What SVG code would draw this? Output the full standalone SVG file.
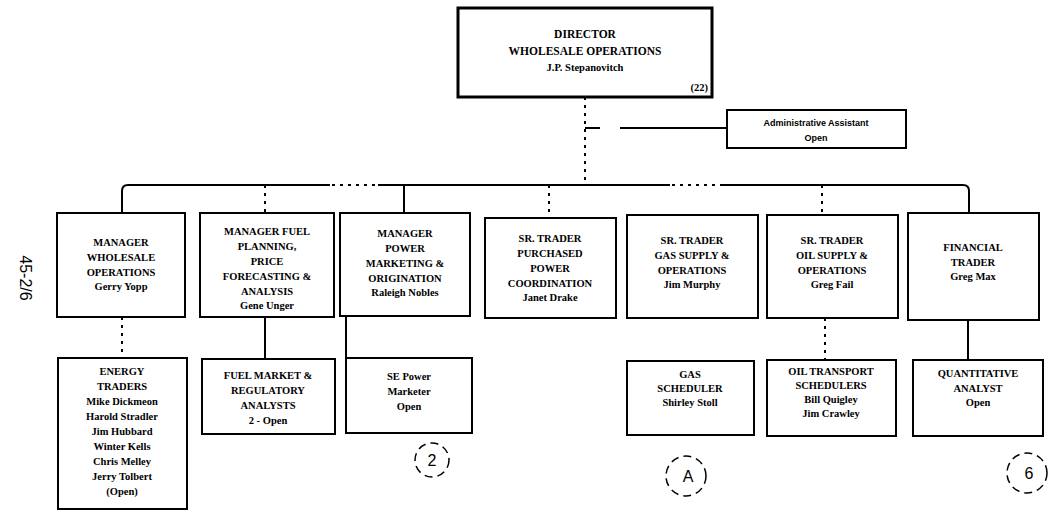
<svg xmlns="http://www.w3.org/2000/svg" width="1053" height="515" viewBox="0 0 1053 515">
<style>
.box{fill:#fff;stroke:#000;stroke-width:2}
.dir{fill:#fff;stroke:#000;stroke-width:3}
.t{font-family:"Liberation Serif",serif;font-weight:bold;font-size:10.5px;fill:#000;text-anchor:middle}
.td{font-family:"Liberation Serif",serif;font-weight:bold;font-size:11.5px;fill:#000;text-anchor:middle}
.ts{font-family:"Liberation Sans",sans-serif;font-weight:bold;font-size:9px;fill:#000;text-anchor:middle}
.ln{fill:none;stroke:#000;stroke-width:2}
.dl{fill:none;stroke:#000;stroke-width:2;stroke-dasharray:3 5}
.circ{fill:none;stroke:#000;stroke-width:1.5;stroke-dasharray:8 5}
.h{font-family:"Liberation Sans",sans-serif;font-size:16px;fill:#000;text-anchor:middle}
</style>
<rect width="1053" height="515" fill="#fff"/>
<g id="connectors">
<path class="dl" d="M585,97 V185"/>
<path class="ln" d="M585,128 H600 M620,128 H727"/>
<path class="ln" d="M122,212 V191 Q122,185 128,185 H330 M378,185 H670 M723,185 H963 Q969,185 969,191 V213"/>
<path class="dl" d="M332,185 H378 M672,185 H723"/>
<path class="dl" d="M122,191 V213"/>
<path class="dl" d="M265,185 V213"/>
<path class="ln" d="M404,185 V213"/>
<path class="dl" d="M549,185 V218"/>
<path class="dl" d="M822,185 V215"/>
<path class="dl" d="M122,317 V358"/>
<path class="ln" d="M265,318 V359"/>
<path class="ln" d="M346,316 V358"/>
<path class="dl" d="M825,318 V360"/>
<path class="ln" d="M968,320 V360"/>
</g>
<g id="director">
<rect class="dir" x="458" y="8" width="254" height="89"/>
<text class="td" x="585" y="38">DIRECTOR</text>
<text class="td" x="585" y="55">WHOLESALE OPERATIONS</text>
<text class="t" x="585" y="71">J.P. Stepanovitch</text>
<text class="t" x="708" y="91" style="text-anchor:end">(22)</text>
</g>
<g id="admin">
<rect class="box" x="727" y="110" width="179" height="38"/>
<text class="ts" x="816" y="126">Administrative Assistant</text>
<text class="ts" x="816" y="141">Open</text>
</g>
<g id="mgr-wholesale">
<rect class="box" x="57" y="213" width="128" height="104"/>
<text class="t" x="121" y="246">MANAGER</text>
<text class="t" x="121" y="261">WHOLESALE</text>
<text class="t" x="121" y="276">OPERATIONS</text>
<text class="t" x="121" y="290">Gerry Yopp</text>
</g>
<g id="mgr-fuel">
<rect class="box" x="200" y="213" width="134" height="104"/>
<text class="t" x="267" y="235">MANAGER FUEL</text>
<text class="t" x="267" y="250">PLANNING,</text>
<text class="t" x="267" y="265">PRICE</text>
<text class="t" x="267" y="280">FORECASTING &amp;</text>
<text class="t" x="267" y="295">ANALYSIS</text>
<text class="t" x="267" y="309">Gene Unger</text>
</g>
<g id="mgr-power">
<rect class="box" x="340" y="213" width="130" height="103"/>
<text class="t" x="405" y="237">MANAGER</text>
<text class="t" x="405" y="252">POWER</text>
<text class="t" x="405" y="267">MARKETING &amp;</text>
<text class="t" x="405" y="282">ORIGINATION</text>
<text class="t" x="405" y="296">Raleigh Nobles</text>
</g>
<g id="sr-purchased">
<rect class="box" x="485" y="218" width="131" height="100"/>
<text class="t" x="550" y="242">SR. TRADER</text>
<text class="t" x="550" y="257">PURCHASED</text>
<text class="t" x="550" y="272">POWER</text>
<text class="t" x="550" y="287">COORDINATION</text>
<text class="t" x="550" y="301">Janet Drake</text>
</g>
<g id="sr-gas">
<rect class="box" x="627" y="215" width="131" height="103"/>
<text class="t" x="692" y="244">SR. TRADER</text>
<text class="t" x="692" y="259">GAS SUPPLY &amp;</text>
<text class="t" x="692" y="274">OPERATIONS</text>
<text class="t" x="692" y="288">Jim Murphy</text>
</g>
<g id="sr-oil">
<rect class="box" x="767" y="215" width="131" height="103"/>
<text class="t" x="832" y="244">SR. TRADER</text>
<text class="t" x="832" y="259">OIL SUPPLY &amp;</text>
<text class="t" x="832" y="274">OPERATIONS</text>
<text class="t" x="832" y="288">Greg Fail</text>
</g>
<g id="fin-trader">
<rect class="box" x="908" y="213" width="131" height="107"/>
<text class="t" x="973" y="251">FINANCIAL</text>
<text class="t" x="973" y="266">TRADER</text>
<text class="t" x="973" y="280">Greg Max</text>
</g>
<g id="energy-traders">
<rect class="box" x="58" y="358" width="129" height="151"/>
<text class="t" x="122" y="375">ENERGY</text>
<text class="t" x="122" y="390">TRADERS</text>
<text class="t" x="122" y="405">Mike Dickmeon</text>
<text class="t" x="122" y="420">Harold Stradler</text>
<text class="t" x="122" y="435">Jim Hubbard</text>
<text class="t" x="122" y="450">Winter Kells</text>
<text class="t" x="122" y="465">Chris Melley</text>
<text class="t" x="122" y="480">Jerry Tolbert</text>
<text class="t" x="122" y="495">(Open)</text>
</g>
<g id="fuel-market">
<rect class="box" x="202" y="359" width="133" height="75"/>
<text class="t" x="268" y="379">FUEL MARKET &amp;</text>
<text class="t" x="268" y="394">REGULATORY</text>
<text class="t" x="268" y="409">ANALYSTS</text>
<text class="t" x="268" y="424">2 - Open</text>
</g>
<g id="se-power">
<rect class="box" x="346" y="358" width="126" height="75"/>
<text class="t" x="409" y="380">SE Power</text>
<text class="t" x="409" y="395">Marketer</text>
<text class="t" x="409" y="410">Open</text>
</g>
<g id="gas-scheduler">
<rect class="box" x="627" y="361" width="127" height="74"/>
<text class="t" x="690" y="378">GAS</text>
<text class="t" x="690" y="392">SCHEDULER</text>
<text class="t" x="690" y="406">Shirley Stoll</text>
</g>
<g id="oil-transport">
<rect class="box" x="767" y="360" width="129" height="76"/>
<text class="t" x="831" y="375">OIL TRANSPORT</text>
<text class="t" x="831" y="389">SCHEDULERS</text>
<text class="t" x="831" y="403">Bill Quigley</text>
<text class="t" x="831" y="417">Jim Crawley</text>
</g>
<g id="quant">
<rect class="box" x="913" y="360" width="130" height="76"/>
<text class="t" x="978" y="377">QUANTITATIVE</text>
<text class="t" x="978" y="392">ANALYST</text>
<text class="t" x="978" y="406">Open</text>
</g>
<g id="marks">
<circle class="circ" cx="432" cy="460" r="17"/>
<text class="h" x="432" y="466">2</text>
<circle class="circ" cx="686" cy="476" r="20"/>
<text class="h" x="688" y="482">A</text>
<circle class="circ" cx="1027" cy="473" r="20"/>
<text class="h" x="1029" y="479">6</text>
<text class="h" x="0" y="0" font-size="14" transform="translate(20,278) rotate(90)">45-2/6</text>
</g>
</svg>
